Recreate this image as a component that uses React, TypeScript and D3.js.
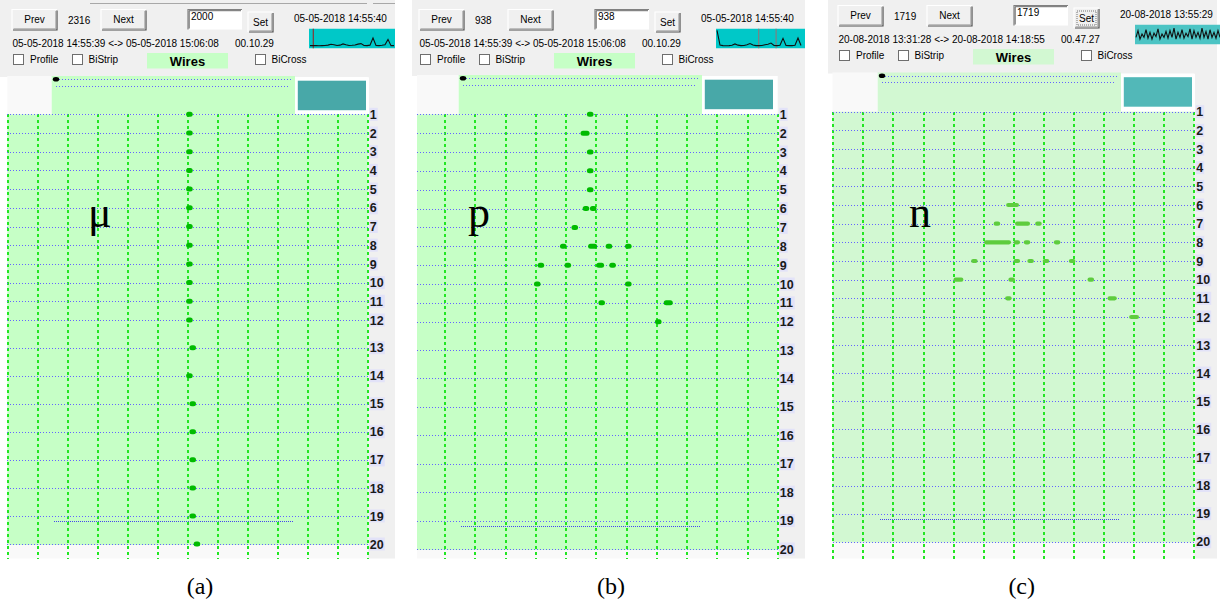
import React from "react";
import * as d3 from "d3";

const W = 1220;
const H = 602;

// ---- tick labels / categories ----
const rowLabels = [1, 2, 3, 4, 5, 6, 7, 8, 9, 10, 11, 12, 13, 14, 15, 16, 17, 18, 19, 20];
const wireTicks = [0, 10, 20, 30, 40, 50, 60, 70, 80, 90, 100, 110, 120];

// ---- hits: row (plane), x (wire position), w (cluster length) ----
const hitsMu = [
  { row: 1, x: 60.6, w: 0 }, { row: 2, x: 60.6, w: 0 }, { row: 3, x: 60.6, w: 0 },
  { row: 4, x: 60.6, w: 0 }, { row: 5, x: 60.6, w: 0 }, { row: 6, x: 60.6, w: 0 },
  { row: 7, x: 60.6, w: 0 }, { row: 8, x: 60.6, w: 0 }, { row: 9, x: 60.6, w: 0 },
  { row: 10, x: 60.6, w: 0 }, { row: 11, x: 60.6, w: 0 }, { row: 12, x: 60.6, w: 0 },
  { row: 13, x: 61.7, w: 0 }, { row: 14, x: 60.6, w: 0 }, { row: 15, x: 61.7, w: 0 },
  { row: 16, x: 61.7, w: 0 }, { row: 17, x: 61.7, w: 0 }, { row: 18, x: 61.7, w: 0 },
  { row: 19, x: 61.7, w: 0 }, { row: 20, x: 63.1, w: 0 },
];
const hitsP = [
  { row: 1, x: 58.0, w: 0 }, { row: 2, x: 56.3, w: 3 }, { row: 3, x: 58.0, w: 0 },
  { row: 4, x: 58.0, w: 0 }, { row: 5, x: 58.0, w: 0 }, { row: 6, x: 56.6, w: 0 },
  { row: 6, x: 59.0, w: 0 }, { row: 7, x: 52.9, w: 0 }, { row: 8, x: 49.1, w: 0 },
  { row: 8, x: 58.8, w: 3 }, { row: 8, x: 64.2, w: 0 }, { row: 8, x: 70.6, w: 0 },
  { row: 9, x: 41.7, w: 0 }, { row: 9, x: 50.6, w: 0 }, { row: 9, x: 61.3, w: 2.6 },
  { row: 9, x: 65.4, w: 0 }, { row: 10, x: 40.5, w: 0 }, { row: 10, x: 70.6, w: 0 },
  { row: 11, x: 61.8, w: 0 }, { row: 11, x: 83.8, w: 3 }, { row: 12, x: 80.5, w: 0 },
];
const hitsN = [
  { row: 6, x: 59.6, w: 4.3 }, { row: 7, x: 54.4, w: 0 }, { row: 7, x: 62.9, w: 5 },
  { row: 7, x: 68.2, w: 0 }, { row: 8, x: 54.6, w: 9 }, { row: 8, x: 61.0, w: 0 },
  { row: 8, x: 64.4, w: 0 }, { row: 8, x: 74.4, w: 0 }, { row: 9, x: 46.9, w: 0 },
  { row: 9, x: 61.0, w: 0 }, { row: 9, x: 65.6, w: 0 }, { row: 9, x: 70.7, w: 0 },
  { row: 9, x: 79.4, w: 0 }, { row: 10, x: 41.6, w: 3.3 }, { row: 10, x: 59.3, w: 0 },
  { row: 10, x: 85.6, w: 0 }, { row: 11, x: 58.2, w: 0 }, { row: 11, x: 92.7, w: 3.1 },
  { row: 12, x: 100.0, w: 3.3 },
];

// ---- rate sparklines ----
const sparkA = [0.05, 0.05, 0.05, 0.04, 0.05, 0.06, 0.08, 0.13, 0.1, 0.06, 0.08, 0.15, 0.1, 0.06, 0.07,
  0.09, 0.14, 0.17, 0.06, 0.05, 0.08, 0.5, 0.06, 0.05, 0.07, 0.1, 0.42, 0.05, 0.05];
const sparkB = [0.95, 0.08, 0.05, 0.04, 0.05, 0.07, 0.15, 0.08, 0.05, 0.06, 0.1, 0.17, 0.09, 0.05, 0.05,
  0.06, 0.1, 0.13, 0.2, 0.06, 0.05, 0.07, 0.48, 0.06, 0.05, 0.05, 0.07, 0.5, 0.06];
const sparkC = [0.3, 0.7, 0.2, 0.5, 0.3, 0.75, 0.25, 0.6, 0.2, 0.55, 0.35, 0.8, 0.2, 0.5, 0.3, 0.65, 0.25,
  0.7, 0.3, 0.85, 0.2, 0.6, 0.3, 0.75, 0.25, 0.55, 0.35, 0.8, 0.2, 0.7, 0.3, 0.6, 0.25, 0.85, 0.3, 0.65,
  0.2, 0.75, 0.3, 0.6, 0.25, 0.7, 0.3];
const cursorsA = [1.1];
const cursorsB = [13.9, 19.7];

type Hit = { row: number; x: number; w: number };
type Cfg = {
  ox: number; dy: number; topDy: number; left: number; right: number; sparkRight: number;
  x0: number; colW: number; greenLeft: number; rowY: number[]; hits: Hit[];
  count: string; input: string; date: string; range: string; dur: string;
  spark: number[]; sparkStep: number; cursors: number[]; cursorColor: string; sparkFill: string;
  green: string; dot: string; dotH: number; teal: string;
  symbol: string; symX: number; caption: string; capX: number; topLine: boolean; setFocus: boolean;
};

const panels: Cfg[] = [
  {
    ox: 0, dy: 0, topDy: 0, left: 0, right: 395, sparkRight: 395,
    x0: 7.5, colW: 30.02, greenLeft: 7.3, rowY: [114.3, 320, 347.7, 544], hits: hitsMu,
    count: "2316", input: "2000", date: "05-05-2018 14:55:40",
    range: "05-05-2018 14:55:39 <-> 05-05-2018 15:06:08", dur: "00.10.29",
    spark: sparkA, sparkStep: 3, cursors: cursorsA, cursorColor: "#8a3434", sparkFill: "#00c8c8",
    green: "#c6ffc6", dot: "#00bb00", dotH: 5, teal: "#48a8a8",
    symbol: "μ", symX: 88, caption: "(a)", capX: 200, topLine: true, setFocus: false,
  },
  {
    ox: 407, dy: 0, topDy: -1, left: 412, right: 805, sparkRight: 805,
    x0: 414.75, colW: 30.25, greenLeft: 417, rowY: [114.3, 321.7, 350, 549], hits: hitsP,
    count: "938", input: "938", date: "05-05-2018 14:55:40",
    range: "05-05-2018 14:55:39 <-> 05-05-2018 15:06:08", dur: "00.10.29",
    spark: sparkB, sparkStep: 3, cursors: cursorsB, cursorColor: "#808080", sparkFill: "#00c8c8",
    green: "#c6ffc6", dot: "#00bb00", dotH: 5, teal: "#48a8a8",
    symbol: "p", symX: 468, caption: "(b)", capX: 611, topLine: false, setFocus: false,
  },
  {
    ox: 826, dy: -4, topDy: -3.5, left: 828, right: 1217, sparkRight: 1220,
    x0: 833.3, colW: 30.08, greenLeft: 832.5, rowY: [111.7, 317, 345, 541.7], hits: hitsN,
    count: "1719", input: "1719", date: "20-08-2018 13:55:29",
    range: "20-08-2018 13:31:28 <-> 20-08-2018 14:18:55", dur: "00.47.27",
    spark: sparkC, sparkStep: 2, cursors: [], cursorColor: "#808080", sparkFill: "#4cc4c4",
    green: "#d2f8d2", dot: "#5ecc3e", dotH: 4.2, teal: "#52b8b8",
    symbol: "n", symX: 909, caption: "(c)", capX: 1021.7, topLine: false, setFocus: true,
  },
];

const SANS = "'Liberation Sans', Arial, sans-serif";
const SERIF = "'Liberation Serif', 'Times New Roman', serif";
const crisp = (v: number) => Math.round(v) + 0.5;
const GRID_BLUE = "#6464ff";
const DOTS = "1,2";

function Button({ x, y, w, h, label, focus }: any) {
  return (
    <g>
      <rect x={x} y={y} width={w} height={h} fill="#f0f0f0" />
      <polyline points={`${x},${y + h} ${x},${y} ${x + w},${y}`} fill="none" stroke="#ffffff" strokeWidth={1.2} />
      <polyline points={`${x + 1},${y + h} ${x + w},${y + h} ${x + w},${y + 1}`} fill="none" stroke="#505050" strokeWidth={1.2} />
      <polyline points={`${x + 1.5},${y + h - 1.2} ${x + w - 1.2},${y + h - 1.2} ${x + w - 1.2},${y + 1.5}`} fill="none" stroke="#a8a8a8" strokeWidth={1} />
      {focus && (
        <rect x={x + 3} y={y + 3} width={w - 6} height={h - 6} fill="none" stroke="#404040" strokeWidth={0.7} strokeDasharray="1,1" />
      )}
      <text x={x + w / 2} y={y + h / 2 + 3.5} textAnchor="middle" fontFamily={SANS} fontSize={10} fill="#000">{label}</text>
    </g>
  );
}

function Checkbox({ x, y, label, tx }: any) {
  return (
    <g>
      <rect x={x} y={y} width={10} height={10} fill="#ffffff" stroke="#6e6e6e" strokeWidth={1} />
      <text x={tx} y={y + 8.5} fontFamily={SANS} fontSize={10} fill="#000">{label}</text>
    </g>
  );
}

function Panel({ p }: { p: Cfg }) {
  const x = d3.scaleLinear().domain([0, 120]).range([p.x0, p.x0 + 12 * p.colW]);
  const y = d3.scaleLinear().domain([1, 12, 13, 20]).range(p.rowY);
  const gridRight = x(120);
  const gTop = y(1);
  const gBot = y(20) + 1;
  const stripBot = 558.5;
  const hx = (v: number) => p.ox + v;
  const hy = (v: number) => p.dy + v;
  const ty = (v: number) => p.topDy + v;

  // sparkline
  const sx0 = hx(309);
  const sy0 = hy(28.5);
  const sH = 20;
  const sxs = d3.scaleLinear().domain([0, p.spark.length - 1]).range([sx0 + 1, sx0 + 1 + (p.spark.length - 1) * p.sparkStep]);
  const sys = d3.scaleLinear().domain([0, 1]).range([sy0 + sH - 2, sy0 + 1]);
  const sparkPath = d3.line<number>().x((_, i) => sxs(i)).y((d) => sys(d))(p.spark) || "";
  const clipId = `clip-${p.caption.replace(/[()]/g, "")}`;

  const topY = ty(76);

  return (
    <g>
      <defs>
        <clipPath id={clipId}>
          <rect x={sx0} y={sy0} width={p.sparkRight - sx0} height={sH} />
        </clipPath>
      </defs>
      {/* window background */}
      <rect x={p.left} y={0} width={p.right - p.left} height={topY + 1} fill="#f0f0f0" />
      <rect x={gridRight} y={topY} width={p.right - gridRight} height={stripBot - topY} fill="#f0f0f0" />
      {p.topLine && (
        <g stroke="#a8a8a8" strokeWidth={1} shapeRendering="crispEdges">
          <line x1={hx(90)} x2={hx(367)} y1={3.5} y2={3.5} />
          <line x1={hx(373)} x2={hx(395)} y1={3.5} y2={3.5} />
        </g>
      )}

      {/* header controls */}
      <Button x={hx(12)} y={hy(9.5)} w={45} h={20.5} label="Prev" />
      <text x={hx(68)} y={hy(23.5)} fontFamily={SANS} fontSize={10} fill="#000">{p.count}</text>
      <Button x={hx(101)} y={hy(9.5)} w={45} h={20.5} label="Next" />
      <g>
        <rect x={hx(188)} y={hy(9.5)} width={54} height={20} fill="#ffffff" />
        <polyline points={`${hx(188)},${hy(29.5)} ${hx(188)},${hy(9.5)} ${hx(242)},${hy(9.5)}`} fill="none" stroke="#808080" strokeWidth={1.2} />
        <polyline points={`${hx(189.2)},${hy(28.5)} ${hx(189.2)},${hy(10.7)} ${hx(241)},${hy(10.7)}`} fill="none" stroke="#404040" strokeWidth={0.8} />
        <text x={hx(191)} y={hy(20)} fontFamily={SANS} fontSize={10} fill="#000">{p.input}</text>
      </g>
      <Button x={hx(248)} y={hy(12)} w={25} h={20} label="Set" focus={p.setFocus} />
      <text x={hx(294)} y={hy(22)} fontFamily={SANS} fontSize={10} fill="#000">{p.date}</text>
      <text x={hx(12.5)} y={hy(46.5)} fontFamily={SANS} fontSize={10} fill="#000">{p.range}</text>
      <text x={hx(235)} y={hy(46.5)} fontFamily={SANS} fontSize={10} fill="#000">{p.dur}</text>

      {/* sparkline */}
      <g clipPath={`url(#${clipId})`}>
        <rect x={sx0} y={sy0} width={p.sparkRight - sx0} height={sH} fill={p.sparkFill} />
        {p.cursors.map((c, i) => (
          <line key={i} x1={sxs(c)} x2={sxs(c)} y1={sy0} y2={sy0 + sH} stroke={p.cursorColor} strokeWidth={1.2} />
        ))}
        <path d={sparkPath} fill="none" stroke="#101010" strokeWidth={1.1} />
      </g>

      {/* option row */}
      <Checkbox x={hx(13.5)} y={hy(54.5)} tx={hx(30)} label="Profile" />
      <Checkbox x={hx(72.5)} y={hy(54.5)} tx={hx(88.5)} label="BiStrip" />
      <rect x={hx(147)} y={hy(53)} width={81} height={15.5} fill={p.green} />
      <text x={hx(187.5)} y={hy(65.5)} textAnchor="middle" fontFamily={SANS} fontWeight="bold" fontSize={13} fill="#000">Wires</text>
      <Checkbox x={hx(255.5)} y={hy(54.5)} tx={hx(271.5)} label="BiCross" />

      {/* top beam area */}
      <rect x={p.greenLeft} y={topY} width={hx(51.7) - p.greenLeft} height={gTop - topY} fill="#f9f9f9" />
      <rect x={hx(51.7)} y={topY} width={hx(295) - hx(51.7)} height={gTop - topY} fill={p.green} />
      <rect x={hx(295)} y={ty(77.3)} width={74} height={gTop - ty(77.3)} fill="#ffffff" />
      <rect x={hx(297.8)} y={ty(80.7)} width={68.2} height={29.5} fill={p.teal} />
      <g shapeRendering="crispEdges">
        <line x1={hx(56)} x2={hx(293)} y1={crisp(ty(79.3))} y2={crisp(ty(79.3))} stroke={GRID_BLUE} strokeWidth={1} strokeDasharray={DOTS} />
        <line x1={hx(56)} x2={hx(290)} y1={crisp(ty(85.7))} y2={crisp(ty(85.7))} stroke={GRID_BLUE} strokeWidth={1} strokeDasharray={DOTS} />
      </g>
      <ellipse cx={hx(56)} cy={ty(79.3)} rx={3.2} ry={2.3} fill="#000" />

      {/* grid area */}
      <rect x={p.greenLeft} y={gTop} width={gridRight - p.greenLeft} height={gBot - gTop} fill={p.green} />
      <rect x={p.greenLeft} y={gBot} width={gridRight - p.greenLeft} height={stripBot - gBot} fill="#f9f9f9" />
      <g shapeRendering="crispEdges">
        {wireTicks.filter((t) => x(t) >= p.greenLeft - 1).map((t) => (
          <line key={`v${t}`} x1={Math.round(x(t))} x2={Math.round(x(t))} y1={gTop} y2={stripBot} stroke="#22e622" strokeWidth={2} strokeDasharray="3,3" />
        ))}
        {rowLabels.map((r) => (
          <line key={`h${r}`} x1={p.greenLeft} x2={gridRight} y1={crisp(y(r))} y2={crisp(y(r))} stroke={GRID_BLUE} strokeWidth={1} strokeDasharray={DOTS} />
        ))}
        <line x1={hx(54)} x2={hx(293)} y1={crisp(y(19) + 5)} y2={crisp(y(19) + 5)} stroke="#4646ee" strokeWidth={1} strokeDasharray="1,1" />
      </g>

      {/* row labels */}
      {rowLabels.map((r) => (
        <g key={`l${r}`}>
          <rect x={gridRight + 1.5} y={y(r) - 6.5} width={r < 10 ? 8.5 : 15.5} height={13} fill="#e2e2f8" />
          <text x={gridRight + 2} y={y(r) + 4.6} fontFamily={SANS} fontWeight="bold" fontSize={12.5} fill="#1a1a1a">{r}</text>
        </g>
      ))}

      {/* hits */}
      {p.hits.map((h, i) => {
        const wpx = Math.max(6.6, (h.w * p.colW) / 10);
        return (
          <rect key={`d${i}`} x={x(h.x) - wpx / 2} y={y(h.row) - p.dotH / 2} width={wpx} height={p.dotH}
            rx={p.dotH / 2} ry={p.dotH / 2} fill={p.dot} />
        );
      })}

      {/* particle label and caption */}
      <text x={p.symX} y={227} fontFamily={SERIF} fontSize={44} fill="#000">{p.symbol}</text>
      <text x={p.capX} y={594} textAnchor="middle" fontFamily={SERIF} fontSize={24} fill="#000">{p.caption}</text>
    </g>
  );
}

export default function App() {
  return (
    <svg width={W} height={H} viewBox={`0 0 ${W} ${H}`}
      style={{ position: "absolute", left: 0, top: 0, background: "#ffffff", display: "block" }}>
      <rect x={0} y={0} width={W} height={H} fill="#ffffff" />
      {panels.map((p) => (
        <Panel key={p.caption} p={p} />
      ))}
    </svg>
  );
}
